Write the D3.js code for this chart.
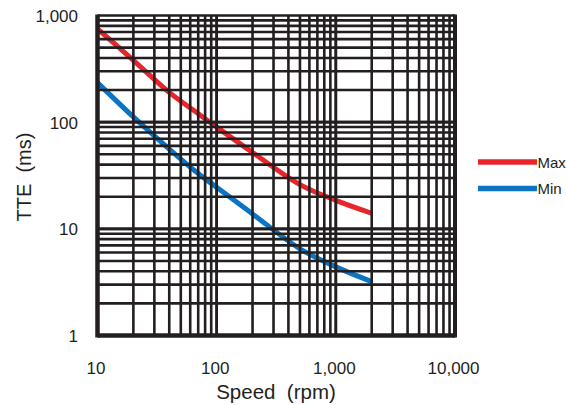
<!DOCTYPE html>
<html><head><meta charset="utf-8">
<script src="https://cdn.jsdelivr.net/npm/d3@7"></script>
<style>body{margin:0;background:#fff}svg{display:block}text{font-family:"Liberation Sans",Arial,sans-serif;fill:#231f20}</style>
</head><body><svg id="c" width="566" height="405"></svg>
<script>
const speeds = [10, 20, 40, 70, 100, 200, 500, 1000, 2000];
const maxTTE = [750, 380, 190, 120, 90, 52, 26, 18.5, 14];
const minTTE = [235, 112, 56, 33, 24.5, 13.8, 6.5, 4.4, 3.2];
const xTicks = [10, 100, 1000, 10000];
const xTickLabels = ["10", "100", "1,000", "10,000"];
const yTicks = [1, 10, 100, 1000];
const yTickLabels = ["1", "10", "100", "1,000"];
const seriesNames = ["Max", "Min"];
const seriesColors = ["#e8252b", "#0b75c4"];

const svg = d3.select("#c");
const x = d3.scaleLog().domain([10, 10000]).range([97.5, 455]);
const y = d3.scaleLog().domain([1, 1000]).range([335.5, 15.5]);
const ink = "#231f20";
const font = '"Liberation Sans",Arial,sans-serif';

const line = d3.line().x((d,i)=>x(speeds[i])).y(d=>y(d)).curve(d3.curveCatmullRom.alpha(0.5));
[maxTTE, minTTE].forEach((s,k)=>{
  svg.append("path").attr("d", line(s)).attr("fill","none")
    .attr("stroke", seriesColors[k]).attr("stroke-width", 5);
});

// grid
const xs = [], ys = [];
for (let d = 10; d < 10000; d *= 10) for (let m = 1; m <= 10; m++) xs.push(d*m);
for (let d = 1; d < 1000; d *= 10) for (let m = 1; m <= 10; m++) ys.push(d*m);
const g = svg.append("g").attr("stroke", ink).attr("stroke-width", 2.6);
g.selectAll("line.v").data(xs).join("line").attr("x1",d=>x(d)).attr("x2",d=>x(d))
  .attr("y1", y(1000)).attr("y2", y(1));
g.selectAll("line.h").data(ys).join("line").attr("y1",d=>y(d)).attr("y2",d=>y(d))
  .attr("x1", x(10)).attr("x2", x(10000));
// border
svg.append("line").attr("x1",x(10)).attr("x2",x(10)).attr("y1",y(1000)-1).attr("y2",y(1)+2).attr("stroke",ink).attr("stroke-width",4.5);
svg.append("line").attr("x1",x(10000)).attr("x2",x(10000)).attr("y1",y(1000)-1).attr("y2",y(1)+2).attr("stroke",ink).attr("stroke-width",4);
svg.append("line").attr("x1",x(10)).attr("x2",x(10000)).attr("y1",y(1)).attr("y2",y(1)).attr("stroke",ink).attr("stroke-width",4.5);

// axes labels
const xa = d3.axisBottom(x).tickValues(xTicks).tickFormat((d,i)=>xTickLabels[i]).tickSize(0).tickPadding(0);
const xg = svg.append("g").attr("transform","translate(-2,374)").call(xa);
xg.select(".domain").remove();
xg.selectAll("text").attr("font-size",17).attr("dy",0).style("font-family",font).attr("fill",ink);
const ya = d3.axisLeft(y).tickValues(yTicks).tickFormat((d,i)=>yTickLabels[i]).tickSize(0).tickPadding(0);
const yg = svg.append("g").attr("transform","translate(78,0)").call(ya);
yg.select(".domain").remove();
yg.selectAll("text").attr("font-size",17).attr("dy","0.35em").style("font-family",font).attr("fill",ink);

svg.append("text").attr("x",276).attr("y",399).attr("text-anchor","middle").attr("font-size",20.5)
  .style("white-space","pre").text("Speed  (rpm)");
svg.append("text").attr("transform","translate(31,177) rotate(-90)").attr("text-anchor","middle").attr("font-size",20)
  .style("white-space","pre").text("TTE  (ms)");

// legend
seriesNames.forEach((n,k)=>{
  const yy = [162, 188.5][k];
  svg.append("line").attr("x1",478).attr("x2",537).attr("y1",yy).attr("y2",yy)
    .attr("stroke",seriesColors[k]).attr("stroke-width",5.5);
  svg.append("text").attr("x",537.5).attr("y",yy+5.5).attr("font-size",15).text(n);
});
</script></body></html>
